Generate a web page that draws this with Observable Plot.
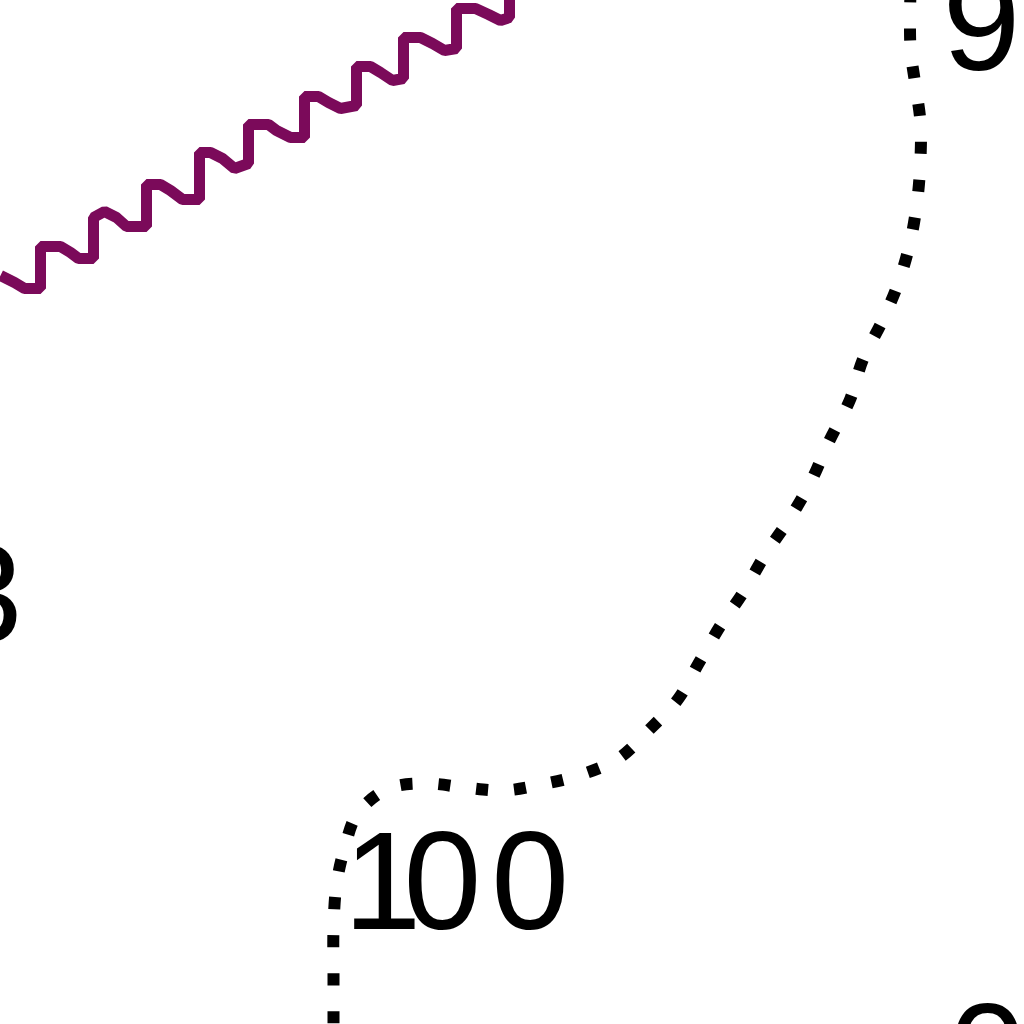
<!DOCTYPE html>
<html>
<head>
<meta charset="utf-8">
<script src="https://cdn.jsdelivr.net/npm/d3@7"></script>
<script src="https://cdn.jsdelivr.net/npm/@observablehq/plot@0.6"></script>
<style>
html, body { margin: 0; padding: 0; background: #fff; overflow: hidden; }
</style>
</head>
<body>
<div id="chart"></div>
<script>
// Purple sawtooth line (plot units = pixels of the view)
const waveX = [0,14,24,40,40,60,70,78,93,93,104,116,126,146,146,160,170,182,199,199,210,222,234,248,248,268,276,290,304,304,318,328,340,356,356,370,380,392,403,403,420,432,444,456,456,475,488,500,509,509];
const waveY = [275,282,288,288,246,246,252,258,258,217,211,217,226,226,184,184,190,199,199,152,152,158,168,163,124,124,130,137,137,96,96,102,108,105,66,66,72,80,78,37,37,43,50,48,8,8,14,20,17,-15];

// Dotted contour line
const dotX = [910,910,915,920,920,917,910,898,882,862,850,828,810,788,766,742,720,698,678,650,618,578,541,503,464,426,388,357,344,336,333,333,333,333];
const dotY = [-10,48,85,122,158,198,240,282,320,360,398,442,482,520,552,593,625,663,698,728,758,775,784,790,787,783,788,813,848,884,928,973,1013,1050];

// Text labels
const labelText = ["100", "9", "3", "0"];
const labelX = [343, 942, 22, 948];
const labelY = [928, 69, 641, 1100];
const labelAnchor = ["start", "start", "end", "start"];

const wave = waveX.map((x, i) => ({x, y: waveY[i]}));
const dots = dotX.map((x, i) => ({x, y: dotY[i]}));
const labels = labelText.map((t, i) => ({t, x: labelX[i], y: labelY[i], a: labelAnchor[i]}));

const chart = Plot.plot({
  width: 1024,
  height: 1024,
  margin: 0,
  style: {background: "#fff", overflow: "hidden"},
  x: {domain: [0, 1024], range: [0, 1024], axis: null},
  y: {domain: [0, 1024], range: [0, 1024], axis: null},
  marks: [
    Plot.line(wave, {x: "x", y: "y", stroke: "#7b0a5a", strokeWidth: 11, strokeLinejoin: "miter", strokeLinecap: "butt"}),
    Plot.line(dots, {x: "x", y: "y", curve: "catmull-rom", stroke: "#000", strokeWidth: 12, strokeDasharray: "12,26", strokeLinecap: "butt"}),
    ...["start", "end"].map(anchor =>
      Plot.text(labels.filter(d => d.a === anchor), {
        x: "x", y: "y", text: "t",
        textAnchor: anchor, lineAnchor: "bottom",
        fontSize: 140, fontFamily: "Liberation Sans", fill: "#000"
      })
    )
  ]
});
// tighten the narrow "1" of the "100" label like in the reference lettering
d3.select(chart).selectAll("text").filter(function() { return this.textContent === "100"; })
  .attr("dx", "0 -18 10");
document.getElementById("chart").appendChild(chart);
</script>
</body>
</html>
